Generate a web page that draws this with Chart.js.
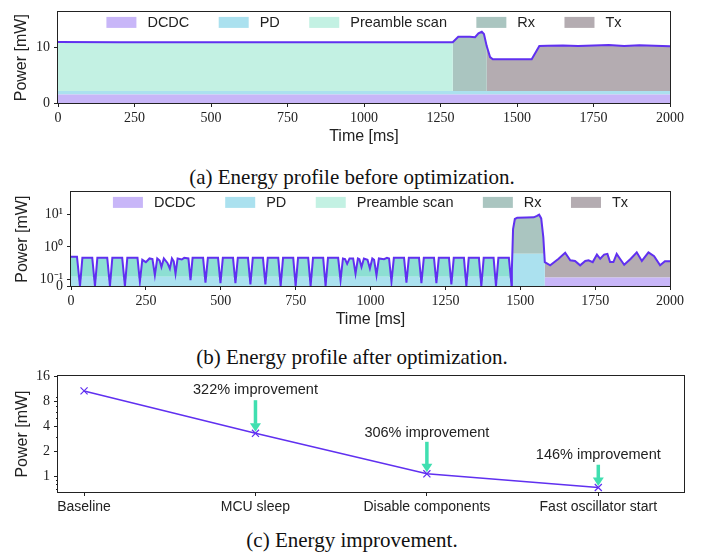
<!DOCTYPE html>
<html>
<head>
<meta charset="utf-8">
<script src="https://cdn.jsdelivr.net/npm/chart.js@4.4.1/dist/chart.umd.min.js"></script>
<style>
body { margin: 0; background: #fff; width: 704px; height: 556px; position: relative; overflow: hidden; }
canvas { position: absolute; left: 0; }
.cap { position: absolute; left: 0; width: 704px; text-align: center; font-family: "Liberation Serif", "Times New Roman", serif; font-size: 21px; line-height: 24px; color: #111; }
</style>
</head>
<body>
<div class="cap" style="top:165px">(a) Energy profile before optimization.</div>
<div class="cap" style="top:345px">(b) Energy profile after optimization.</div>
<div class="cap" style="top:528px">(c) Energy improvement.</div>
<canvas id="graphA" width="704" height="150" style="top:0px"></canvas>
<canvas id="graphB" width="704" height="150" style="top:180px"></canvas>
<canvas id="graphC" width="704" height="170" style="top:360px"></canvas>
<script>
// ---------- data ----------
const legendNames = ['DCDC', 'PD', 'Preamble scan', 'Rx', 'Tx'];

// (a) before optimization, total power [mW] per phase, time in ms
const preTimeA  = [0, 200, 400, 600, 800, 1000, 1200, 1290];
const preTotalA = [11.05, 11.0, 11.0, 11.0, 11.0, 11.0, 11.0, 11.0];
const rxTimeA   = [1290, 1308, 1346, 1363, 1374, 1385, 1392, 1401];
const rxTotalA  = [11.0, 12.0, 12.0, 11.9, 12.6, 12.9, 12.5, 10.3];
const txTimeA   = [1401, 1412, 1421, 1548, 1573, 1600, 1650, 1700, 1750, 1800, 1850, 1900, 1950, 2000];
const txTotalA  = [10.3, 8.3, 7.9, 7.9, 10.3, 10.35, 10.4, 10.3, 10.4, 10.5, 10.3, 10.45, 10.35, 10.25];
const dcdcA = 1.55;
const pdA = 0.6;
const ticksA = [0, 10];

// (b) after optimization
const preTimeB = [0, 20, 30, 38, 71, 80, 88, 121, 130, 138,
  171, 180, 188, 222, 230, 238, 250, 262, 272, 280,
  288, 296, 302, 310, 322, 330, 337, 343, 349, 356,
  370, 378, 392, 399, 406, 441, 449, 457, 491, 499,
  507, 541, 549, 557, 591, 599, 607, 641, 649, 657,
  692, 700, 708, 742, 750, 758, 792, 800, 808, 842,
  850, 858, 892, 900, 908, 915, 922, 930, 942, 950,
  958, 963, 970, 978, 990, 998, 1006, 1012, 1020, 1028,
  1045, 1055, 1062, 1070, 1078, 1112, 1120, 1128, 1162, 1170,
  1178, 1212, 1220, 1228, 1262, 1270, 1278, 1312, 1320, 1328,
  1362, 1370, 1378, 1411, 1419, 1427, 1462, 1471];
const preTotalB = [0.5, 0.5, 0, 0.46, 0.46, 0, 0.46, 0.46, 0, 0.46,
  0.46, 0, 0.46, 0.46, 0.085, 0.4, 0.34, 0.44, 0.42, 0.135,
  0.44, 0.38, 0.24, 0.44, 0.32, 0.215, 0.44, 0.36, 0.15, 0.44,
  0.41, 0.46, 0.44, 0.095, 0.46, 0.46, 0.08, 0.46, 0.46, 0.076,
  0.46, 0.46, 0.076, 0.46, 0.46, 0.07, 0.46, 0.46, 0.07, 0.46,
  0.46, 0, 0.46, 0.46, 0, 0.46, 0.46, 0, 0.46, 0.46,
  0, 0.46, 0.46, 0.095, 0.44, 0.42, 0.3, 0.44, 0.44, 0.15,
  0.44, 0.42, 0.24, 0.44, 0.4, 0.215, 0.44, 0.4, 0.135, 0.44,
  0.42, 0.46, 0.44, 0.085, 0.46, 0.46, 0.08, 0.46, 0.46, 0.076,
  0.46, 0.46, 0.076, 0.46, 0.46, 0.07, 0.46, 0.46, 0, 0.46,
  0.46, 0, 0.46, 0.46, 0, 0.46, 0.46, 0];
const rxTimeB  = [1472, 1476, 1482, 1490, 1520, 1545, 1556, 1563, 1570, 1577, 1582];
const rxTotalB = [0.2, 3.5, 7.2, 7.9, 8.0, 8.1, 9.0, 9.8, 7.5, 2.0, 0.34];
const txTimeB  = [1582, 1600, 1628, 1650, 1667, 1683, 1700, 1717, 1728, 1742, 1756, 1767, 1780, 1791,
  1800, 1811, 1822, 1833, 1847, 1869, 1889, 1906, 1928, 1947, 1967, 1983, 2000];
const txTotalB = [0.34, 0.27, 0.43, 0.66, 0.385, 0.37, 0.27, 0.37, 0.385, 0.34, 0.58, 0.43, 0.58, 0.61,
  0.34, 0.34, 0.61, 0.43, 0.28, 0.43, 0.68, 0.37, 0.68, 0.52, 0.27, 0.36, 0.36];
const pdPreB = 0.12;
const pdRxB = 0.61;
const dcdcTxB = 0.115;
const yMinB = 0.0626;
const ticksB = [yMinB, 0.1, 1, 10];
const tickLabelsB = ['0', '10\u207B\u00B9', '10\u2070', '10\u00B9'];

// (c) energy improvement
const categories = ['Baseline', 'MCU sleep', 'Disable components', 'Fast oscillator start'];
const powerC = [10.6, 3.29, 1.075, 0.736];
const improvementText = ['322% improvement', '306% improvement', '146% improvement'];
const arrowTailC = [8.2, 2.6, 1.38];
const textAtC = [10.9, 3.36, 1.82];
const ticksC = [1, 2, 4, 8, 16];
const minorTicksC = [0.7, 0.8, 0.9, 3, 5, 6, 7, 9];

// ---------- styles ----------
const lineColor = '#6030f0';
const legendColors = ['#c8b6f8', '#abe1ef', '#c3f1e3', '#aac5c0', '#b4acb1'];
const fillA = ['#c8b6f8', '#abe1ef', '#c3f1e3', '#aac5c0', '#b4acb1'];
const fillB = ['#c8b6f8', '#abe1ef', '#8ddfd3', '#aac5c0', '#b4acb1'];
const serif = {family: '"Liberation Serif", "Times New Roman", serif', size: 14};
const sans = '"Liberation Sans", Arial, sans-serif';
Chart.defaults.font.family = sans;
Chart.defaults.color = '#222';

// stack the phases: each segment has its own top layer (2 pre, 3 rx, 4 tx)
function buildLayers(segments, floor) {
  const layers = [[], [], [], [], []];
  const line = [];
  segments.forEach(seg => {
    seg.time.forEach((t, i) => {
      const tot = seg.total[i];
      const d = Math.min(seg.dcdc, tot);
      const p = Math.min(d + seg.pd, tot);
      const top = [d, p, p, p, p];
      for (let j = seg.layer; j < 5; j++) top[j] = tot;
      top.forEach((v, j) => layers[j].push({x: t, y: Math.max(v, floor)}));
      line.push({x: t, y: Math.max(tot, floor)});
    });
  });
  return {layers, line};
}

function areaSets(stack, colors) {
  const sets = stack.layers.map((pts, j) => ({
    label: legendNames[j],
    data: pts,
    backgroundColor: colors[j],
    borderWidth: 0,
    pointRadius: 0,
    fill: j === 0 ? 'start' : '-1',
    order: 1
  }));
  sets.push({
    label: 'total',
    data: stack.line,
    borderColor: lineColor,
    borderWidth: 2,
    pointRadius: 0,
    fill: false,
    order: 0
  });
  return sets;
}

function axis(extra) {
  return Object.assign({
    grid: {display: true, drawOnChartArea: false, drawTicks: true, tickLength: 4, color: '#222', tickColor: '#222'},
    border: {display: false}
  }, extra);
}

const frame = {
  id: 'frame',
  afterDraw(chart) {
    const a = chart.chartArea, ctx = chart.ctx;
    ctx.save();
    ctx.strokeStyle = '#222';
    ctx.lineWidth = 1;
    ctx.strokeRect(Math.round(a.left) - 0.5, Math.round(a.top) - 0.5, Math.round(a.right - a.left) + 1, Math.round(a.bottom - a.top) + 1);
    ctx.restore();
  }
};

// legend drawn inside the plot area, one row
const boxLegend = {
  id: 'boxLegend',
  afterDraw(chart, args, opts) {
    if (!opts.colors) return;
    const {ctx, chartArea: a} = chart;
    ctx.save();
    ctx.font = '14.5px ' + sans;
    const widths = legendNames.map(n => 41 + ctx.measureText(n).width);
    const gap = 29.4;
    const total = widths.reduce((s, w) => s + w, 0) + gap * (widths.length - 1);
    let x = (a.left + a.right) / 2 - total / 2;
    const yTop = a.top + 4.5;
    legendNames.forEach((n, i) => {
      ctx.fillStyle = opts.colors[i];
      ctx.fillRect(x, yTop, 30, 11);
      ctx.fillStyle = '#222';
      ctx.textBaseline = 'middle';
      ctx.textAlign = 'left';
      ctx.fillText(n, x + 41, yTop + 6);
      x += widths[i] + gap;
    });
    ctx.restore();
  }
};

const baseOptions = {
  responsive: false,
  animation: false,
  devicePixelRatio: 1,
  elements: {line: {tension: 0}}
};

// ---------- (a) ----------
const stackA = buildLayers([
  {time: preTimeA, total: preTotalA, dcdc: dcdcA, pd: pdA, layer: 2},
  {time: rxTimeA, total: rxTotalA, dcdc: dcdcA, pd: pdA, layer: 3},
  {time: txTimeA, total: txTotalA, dcdc: dcdcA, pd: pdA, layer: 4}
], 0);

new Chart(document.getElementById('graphA'), {
  type: 'line',
  data: {datasets: areaSets(stackA, fillA)},
  options: Object.assign({}, baseOptions, {
    layout: {padding: {top: 8, right: 34, left: 0, bottom: 0}},
    plugins: {legend: {display: false}, tooltip: {enabled: false}, boxLegend: {colors: legendColors}},
    scales: {
      x: axis({
        type: 'linear', min: 0, max: 2000,
        ticks: {stepSize: 250, font: serif, padding: 3, maxRotation: 0, autoSkip: false, callback: v => String(v)},
        title: {display: true, text: 'Time [ms]', font: {size: 16}, padding: {top: 0, bottom: 4}},
        afterFit: s => { s.height = 47; }
      }),
      y: axis({
        type: 'linear', min: 0, max: 16.4,
        afterBuildTicks: s => { s.ticks = ticksA.map(v => ({value: v})); },
        ticks: {font: serif, padding: 4, autoSkip: false, callback: v => String(v)},
        title: {display: true, text: 'Power [mW]', font: {size: 16}, padding: {top: 12, bottom: 0}},
        afterFit: s => { s.width = 58; }
      })
    }
  }),
  plugins: [frame, boxLegend]
});

// ---------- (b) ----------
const stackB = buildLayers([
  {time: preTimeB, total: preTotalB, dcdc: 0, pd: pdPreB, layer: 2},
  {time: rxTimeB, total: rxTotalB, dcdc: 0, pd: pdRxB, layer: 3},
  {time: txTimeB, total: txTotalB, dcdc: dcdcTxB, pd: 0, layer: 4}
], yMinB);

new Chart(document.getElementById('graphB'), {
  type: 'line',
  data: {datasets: areaSets(stackB, fillB)},
  options: Object.assign({}, baseOptions, {
    layout: {padding: {top: 11, right: 34, left: 0, bottom: 0}},
    plugins: {legend: {display: false}, tooltip: {enabled: false}, boxLegend: {colors: legendColors}},
    scales: {
      x: axis({
        type: 'linear', min: 0, max: 2000,
        ticks: {stepSize: 250, font: serif, padding: 3, maxRotation: 0, autoSkip: false, callback: v => String(v)},
        title: {display: true, text: 'Time [ms]', font: {size: 16}, padding: {top: 0, bottom: 1}},
        afterFit: s => { s.height = 44; }
      }),
      y: axis({
        type: 'logarithmic', min: yMinB, max: 47.4,
        afterBuildTicks: s => { s.ticks = ticksB.map(v => ({value: v})); },
        ticks: {font: serif, padding: 4, autoSkip: false, callback: (v, i) => tickLabelsB[i]},
        title: {display: true, text: 'Power [mW]', font: {size: 16}, padding: {top: 13, bottom: 0}},
        afterFit: s => { s.width = 71; }
      })
    }
  }),
  plugins: [frame, boxLegend]
});

// ---------- (c) ----------
const arrows = {
  id: 'arrows',
  beforeDatasetsDraw(chart) {
    const {ctx, scales: {x, y}} = chart;
    ctx.save();
    arrowTailC.forEach((tail, k) => {
      const i = k + 1;
      const px = x.getPixelForValue(i);
      const tip = y.getPixelForValue(powerC[i]) - 1.5;
      const top = y.getPixelForValue(tail);
      ctx.fillStyle = '#40dfb0';
      ctx.fillRect(px - 1.75, top, 3.5, tip - top - 8);
      ctx.beginPath();
      ctx.moveTo(px - 5.5, tip - 8.5);
      ctx.lineTo(px + 5.5, tip - 8.5);
      ctx.lineTo(px, tip);
      ctx.closePath();
      ctx.fill();
      ctx.fillStyle = '#222';
      ctx.font = '14.5px ' + sans;
      ctx.textAlign = 'center';
      ctx.textBaseline = 'middle';
      ctx.fillText(improvementText[k], px, y.getPixelForValue(textAtC[k]));
    });
    // minor ticks on the log axis
    ctx.strokeStyle = '#222';
    ctx.lineWidth = 1;
    minorTicksC.forEach(v => {
      const py = Math.round(y.getPixelForValue(v)) + 0.5;
      ctx.beginPath();
      ctx.moveTo(chart.chartArea.left - 2, py);
      ctx.lineTo(chart.chartArea.left, py);
      ctx.stroke();
    });
    ctx.restore();
  }
};

new Chart(document.getElementById('graphC'), {
  type: 'line',
  data: {
    datasets: [{
      label: 'Power',
      data: powerC.map((v, i) => ({x: i, y: v})),
      borderColor: lineColor,
      borderWidth: 1.5,
      pointStyle: 'crossRot',
      pointRadius: 5,
      pointBorderColor: lineColor,
      pointBorderWidth: 1.2,
      fill: false
    }]
  },
  options: Object.assign({}, baseOptions, {
    layout: {padding: {top: 16, right: 20, left: 0, bottom: 0}},
    plugins: {legend: {display: false}, tooltip: {enabled: false}},
    scales: {
      x: axis({
        type: 'linear', min: -0.152, max: 3.5,
        afterBuildTicks: s => { s.ticks = categories.map((c, i) => ({value: i})); },
        ticks: {font: {size: 14}, padding: 3, maxRotation: 0, autoSkip: false, callback: v => categories[v]},
        afterFit: s => { s.height = 38; }
      }),
      y: axis({
        type: 'logarithmic', min: 0.65, max: 16,
        afterBuildTicks: s => { s.ticks = ticksC.map(v => ({value: v})); },
        ticks: {font: serif, padding: 4, autoSkip: false, callback: v => String(v)},
        title: {display: true, text: 'Power [mW]', font: {size: 16}, padding: {top: 13, bottom: 0}},
        afterFit: s => { s.width = 58; }
      })
    }
  }),
  plugins: [frame, arrows]
});
</script>
</body>
</html>
